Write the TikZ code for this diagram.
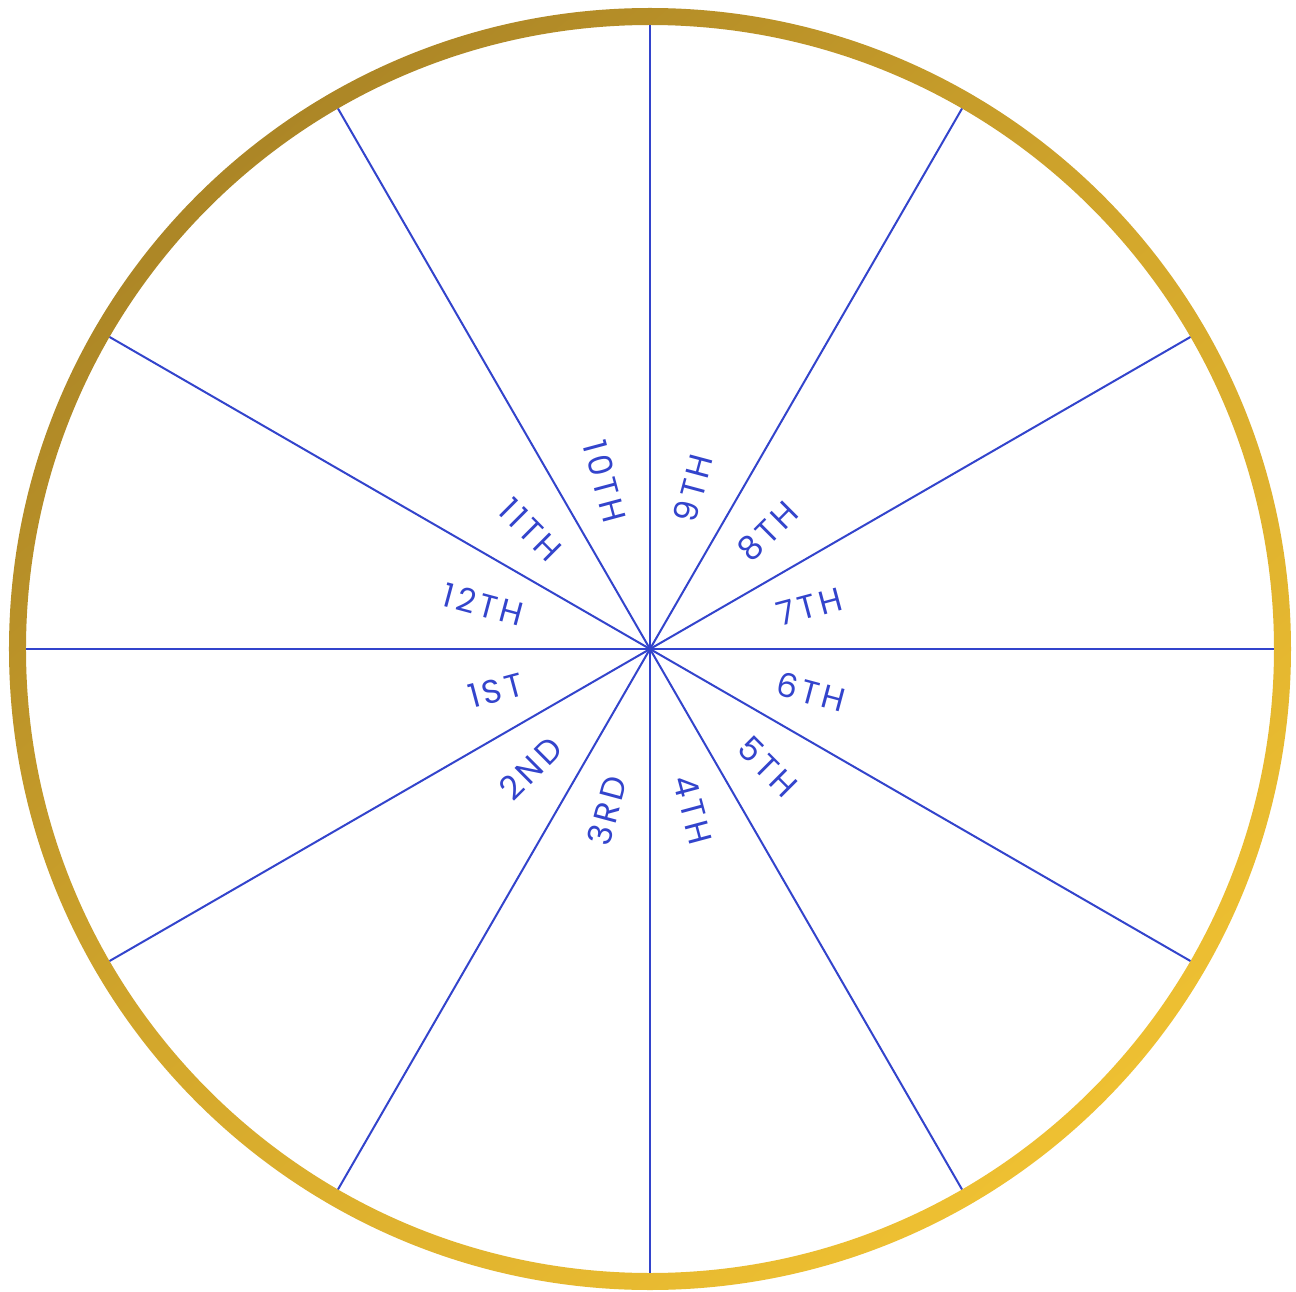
\documentclass[tikz,border=0pt]{standalone}
\usepackage{fontspec}
\setmainfont{Poppins}
\newfontfamily\labfont[LetterSpace=11]{Poppins}
\definecolor{wheelblue}{RGB}{51,68,204}
\definecolor{golddark}{RGB}{172,134,38}
\definecolor{goldmid}{RGB}{212,168,44}
\definecolor{goldlight}{RGB}{238,192,50}
\tikzset{
  spoke/.style={draw=wheelblue, line width=2pt},
  houselabel/.style={text=wheelblue, font=\labfont\fontsize{33}{33}\selectfont, inner sep=0pt},
}
\begin{document}
\begin{tikzpicture}[x=1pt,y=1pt]
\useasboundingbox (-650,-642) rectangle (646,649);
\fill[white] (-650,-642) rectangle (646,649);
\coordinate (c) at (0,0);
% gold ring
\shade[even odd rule, top color=golddark, bottom color=goldlight, middle color=goldmid, shading angle=40]
  (c) circle (641) (c) circle (624);
% spokes
\foreach \a in {0,30,...,330}{
  \coordinate (e\a) at (\a:624);
  \draw[spoke] (c) -- (e\a);
}
% labels: right half
\foreach \a/\t in {15/7TH,45/8TH,75/9TH,-15/6TH,-45/5TH,-75/4TH}{
  \node[houselabel, anchor=west, rotate=\a] (l\t) at (\a:132) {\t};
}
% labels: left half
\foreach \a/\t in {105/10TH,135/11TH,165/12TH,195/1ST,225/2ND,255/3RD}{
  \pgfmathsetmacro{\r}{\a-180}
  \node[houselabel, anchor=east, rotate=\r] (l\t) at (\a:132) {\t};
}
\end{tikzpicture}
\end{document}
